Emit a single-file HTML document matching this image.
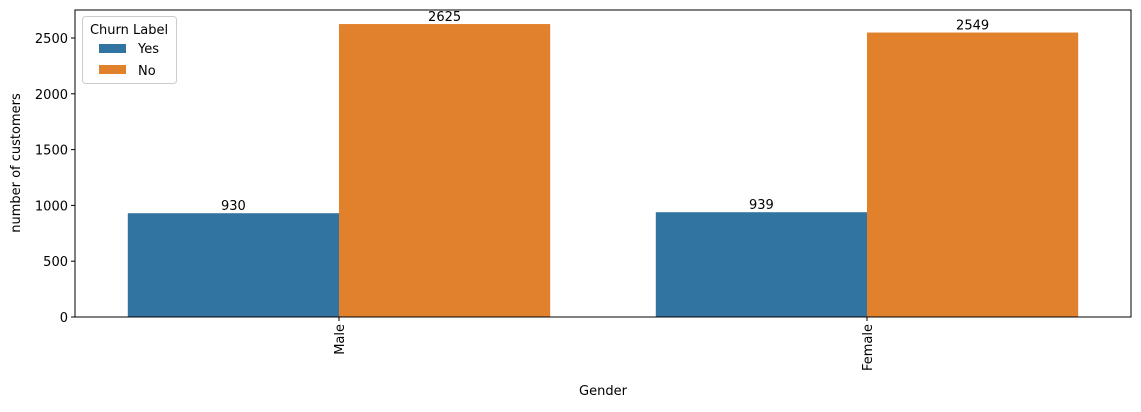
<!DOCTYPE html>
<html><head><meta charset="utf-8"><style>body{margin:0;background:#fff}svg{font-family:"DejaVu Sans","Liberation Sans",sans-serif}</style></head>
<body>
<svg id="c" width="1141" height="407"></svg>
<script>
const categories=["Male","Female"];
const yesValues=[930,939];
const noValues=[2625,2549];
const yTicks=[0,500,1000,1500,2000,2500];
const NS="http://www.w3.org/2000/svg";
const svg=document.getElementById('c');
const L=75,R=1131,T=10,B=317;
const y=v=>B-v*(B-38)/2500;
const catW=(R-L)/categories.length;
const cx=i=>L+catW*(i+0.5);
const bw=catW*0.4;
function mk(t,a,txt){const e=document.createElementNS(NS,t);for(const k in a)e.setAttribute(k,a[k]);if(txt!==undefined)e.textContent=txt;svg.appendChild(e);return e;}
categories.forEach((c,i)=>{
  [[yesValues[i],'#3274a1',-1,'bar-yes-'],[noValues[i],'#e1812c',0,'bar-no-']].forEach(([v,col,off,nm])=>{
    const x=cx(i)+off*bw;
    const r=mk('rect',{x:x,y:y(v),width:bw,height:B-y(v),fill:col});
    
    
    const t=mk('text',{x:x+bw/2,y:y(v)-3,'text-anchor':'middle','font-size':13},String(v));
    
    
  });
  mk('line',{x1:cx(i),x2:cx(i),y1:B,y2:B+4,stroke:'#000'});
  const tl=mk('text',{transform:`translate(${cx(i)+5},${B+7}) rotate(-90)`,'text-anchor':'end','font-size':13},c);
  
  
});
yTicks.forEach(v=>{
  mk('line',{x1:L-4,x2:L,y1:y(v),y2:y(v),stroke:'#000'});
  const t=mk('text',{x:L-7,y:y(v)+5,'text-anchor':'end','font-size':13},String(v));
  
  
});
const f=mk('rect',{x:L,y:T,width:R-L,height:B-T,fill:'none',stroke:'#000'});

const yt=mk('text',{transform:'translate(20,163) rotate(-90)','text-anchor':'middle','font-size':13},'number of customers');

const xt=mk('text',{x:603,y:395,'text-anchor':'middle','font-size':13},'Gender');

const g=mk('g',{});
g.innerHTML='<rect x="82.5" y="16.5" width="94" height="67" rx="3" fill="#fff" stroke="#ccc"/><text x="129" y="34" text-anchor="middle" font-size="13">Churn Label</text><rect x="99" y="44" width="27" height="9" fill="#3274a1"/><text x="138" y="53" font-size="13">Yes</text><rect x="99" y="65" width="27" height="9" fill="#e1812c"/><text x="138" y="75" font-size="13">No</text>';
</script>
</body></html>
